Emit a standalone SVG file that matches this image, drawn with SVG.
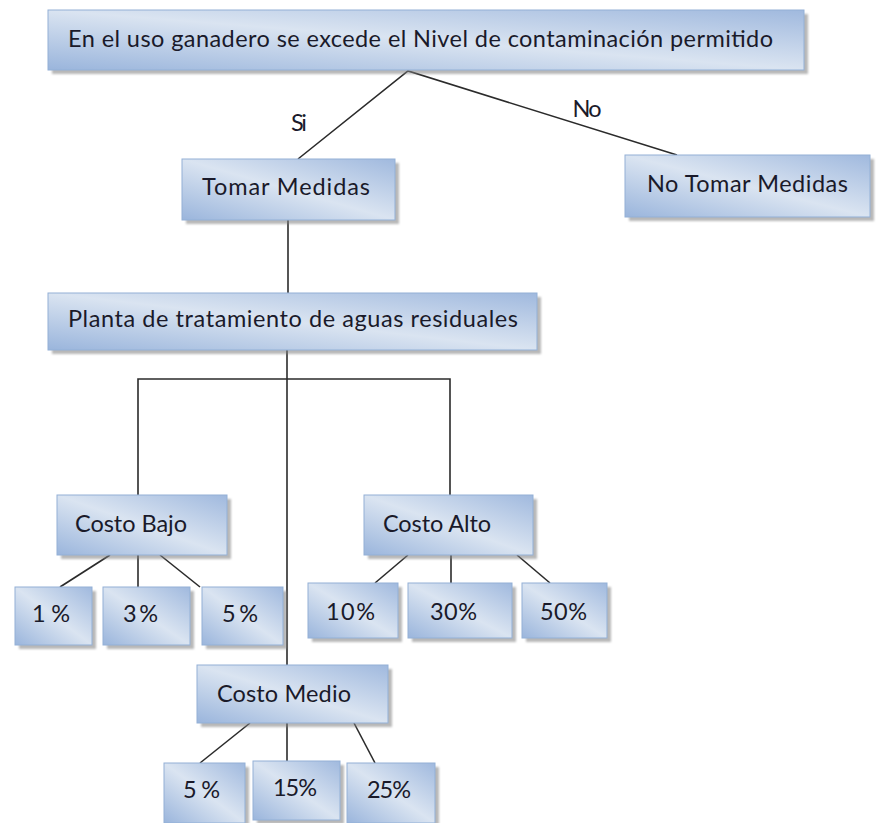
<svg xmlns="http://www.w3.org/2000/svg" width="876" height="823" viewBox="0 0 876 823">
<defs>
<linearGradient id="g" x1="0" y1="1" x2="1" y2="0">
<stop offset="0" stop-color="#9ab5dc"/>
<stop offset="0.5" stop-color="#dae4f1"/>
<stop offset="1" stop-color="#a0b9de"/>
</linearGradient>
<filter id="blur" x="-5%" y="-10%" width="110%" height="130%"><feGaussianBlur stdDeviation="1"/></filter>
</defs>
<style>
.box{fill:url(#g);stroke:#93b0d6;stroke-width:1}
.sh{fill:#7f7f7f;opacity:0.55;filter:url(#blur)}
.t{font-family:Lato,"Open Sans","Liberation Sans",sans-serif;font-size:23.5px;fill:#1a1a2a}
.c{stroke:#2b2b2b;stroke-width:1.6;fill:none}
</style>
<rect width="876" height="823" fill="#ffffff"/>
<g id="connectors">
<polyline class="c" points="298,159 408,71 677,155"/>
<line class="c" x1="288" y1="220" x2="288" y2="293"/>
<line class="c" x1="287" y1="350" x2="287" y2="665"/>
<polyline class="c" points="138,495 138,379 450,379 450,495"/>
<line class="c" x1="110" y1="555" x2="60" y2="587"/>
<line class="c" x1="138" y1="555" x2="138" y2="587"/>
<line class="c" x1="160" y1="555" x2="200" y2="587"/>
<line class="c" x1="408" y1="555" x2="375" y2="583"/>
<line class="c" x1="451" y1="555" x2="451" y2="583"/>
<line class="c" x1="517" y1="555" x2="550" y2="583"/>
<line class="c" x1="250" y1="723" x2="200" y2="763"/>
<line class="c" x1="287" y1="723" x2="287" y2="761"/>
<line class="c" x1="354" y1="723" x2="375" y2="763"/>
<text class="t" x="299" y="131" text-anchor="middle" textLength="16">Si</text>
<text class="t" x="587" y="117" text-anchor="middle" textLength="29">No</text>
</g>
<g id="n-root">
<rect class="sh" x="52" y="14" width="756" height="60"/>
<rect class="box" x="48" y="10" width="756" height="60"/>
<text class="t" x="68" y="47" textLength="705">En el uso ganadero se excede el Nivel de contaminación permitido</text>
</g>
<g id="n-tomar">
<rect class="sh" x="186" y="163" width="213" height="61"/>
<rect class="box" x="182" y="159" width="213" height="61"/>
<text class="t" x="202" y="195" textLength="168">Tomar Medidas</text>
</g>
<g id="n-notomar">
<rect class="sh" x="629" y="159" width="245" height="62"/>
<rect class="box" x="625" y="155" width="245" height="62"/>
<text class="t" x="647" y="192" textLength="201">No Tomar Medidas</text>
</g>
<g id="n-planta">
<rect class="sh" x="52" y="297" width="489" height="57"/>
<rect class="box" x="48" y="293" width="489" height="57"/>
<text class="t" x="68" y="327" textLength="450">Planta de tratamiento de aguas residuales</text>
</g>
<g id="n-bajo">
<rect class="sh" x="61" y="499" width="170" height="60"/>
<rect class="box" x="57" y="495" width="170" height="60"/>
<text class="t" x="75" y="532" textLength="112">Costo Bajo</text>
</g>
<g id="n-alto">
<rect class="sh" x="368" y="499" width="169" height="60"/>
<rect class="box" x="364" y="495" width="169" height="60"/>
<text class="t" x="383" y="532" textLength="108">Costo Alto</text>
</g>
<g id="n-b1">
<rect class="sh" x="19" y="591" width="77" height="58"/>
<rect class="box" x="15" y="587" width="77" height="58"/>
<text class="t" x="32" y="622" textLength="38">1%</text>
</g>
<g id="n-b3">
<rect class="sh" x="107" y="591" width="87" height="58"/>
<rect class="box" x="103" y="587" width="87" height="58"/>
<text class="t" x="123" y="622" textLength="35">3%</text>
</g>
<g id="n-b5">
<rect class="sh" x="206" y="591" width="81" height="58"/>
<rect class="box" x="202" y="587" width="81" height="58"/>
<text class="t" x="222" y="622" textLength="36">5%</text>
</g>
<g id="n-a10">
<rect class="sh" x="312" y="587" width="90" height="55"/>
<rect class="box" x="308" y="583" width="90" height="55"/>
<text class="t" x="326" y="620" textLength="49">10%</text>
</g>
<g id="n-a30">
<rect class="sh" x="412" y="587" width="104" height="55"/>
<rect class="box" x="408" y="583" width="104" height="55"/>
<text class="t" x="430" y="620" textLength="47">30%</text>
</g>
<g id="n-a50">
<rect class="sh" x="526" y="587" width="85" height="55"/>
<rect class="box" x="522" y="583" width="85" height="55"/>
<text class="t" x="540" y="620" textLength="47">50%</text>
</g>
<g id="n-medio">
<rect class="sh" x="201" y="669" width="191" height="58"/>
<rect class="box" x="197" y="665" width="191" height="58"/>
<text class="t" x="217" y="702" textLength="134">Costo Medio</text>
</g>
<g id="n-m5">
<rect class="sh" x="168" y="767" width="81" height="60"/>
<rect class="box" x="164" y="763" width="81" height="60"/>
<text class="t" x="183" y="798" textLength="37">5%</text>
</g>
<g id="n-m15">
<rect class="sh" x="257" y="765" width="87" height="59"/>
<rect class="box" x="253" y="761" width="87" height="59"/>
<text class="t" x="273" y="796" textLength="44">15%</text>
</g>
<g id="n-m25">
<rect class="sh" x="351" y="767" width="88" height="60"/>
<rect class="box" x="347" y="763" width="88" height="60"/>
<text class="t" x="367" y="798" textLength="44">25%</text>
</g>
</svg>
